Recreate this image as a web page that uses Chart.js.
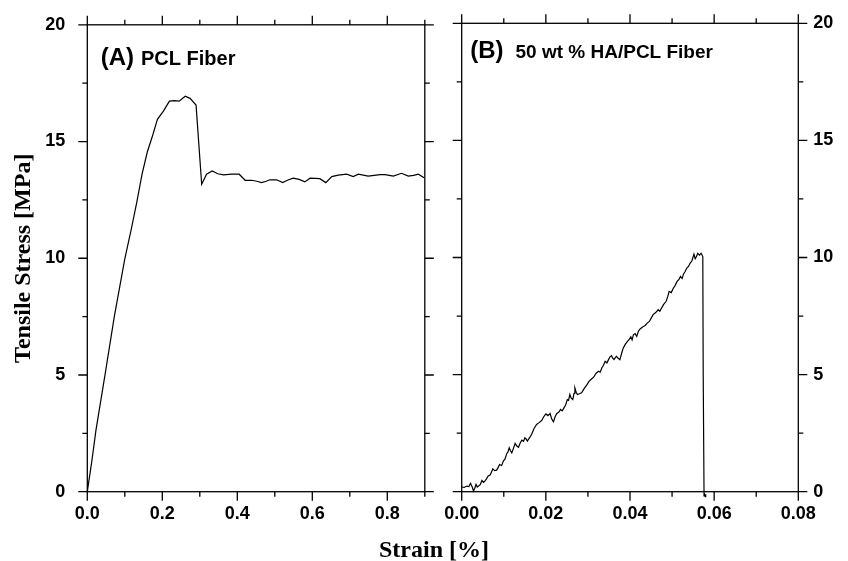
<!DOCTYPE html>
<html>
<head>
<meta charset="utf-8">
<script src="https://cdn.jsdelivr.net/npm/chart.js@4.4.0/dist/chart.umd.min.js"></script>
<style>
  body { margin: 0; background: #fff; }
  #wrap { position: relative; width: 848px; height: 561px; overflow: hidden; }
  canvas { position: absolute; left: 0; top: 0; }
  #xtitle {
    position: absolute; left: 334px; width: 200px; top: 536px;
    text-align: center; line-height: 24px;
    font: bold 24px "Liberation Serif", "Times New Roman", serif;
  }
</style>
</head>
<body>
<div id="wrap">
  <canvas id="chartA" width="848" height="561"></canvas>
  <canvas id="chartB" width="848" height="561"></canvas>
  <div id="xtitle">Strain [%]</div>
</div>
<script>
// courbe (A) : fibre PCL
const strainA = [0, 0.012, 0.023, 0.047, 0.072, 0.1, 0.118, 0.132, 0.146, 0.16, 0.175, 0.187, 0.203, 0.219, 0.232, 0.245, 0.261, 0.274, 0.29,
  0.305, 0.318, 0.333, 0.348, 0.363, 0.385, 0.405, 0.421, 0.438, 0.452, 0.465, 0.477, 0.487, 0.505, 0.521, 0.535, 0.549, 0.565,
  0.58, 0.594, 0.62, 0.636, 0.652, 0.669, 0.692, 0.709, 0.723, 0.749, 0.765, 0.781, 0.794, 0.816, 0.838, 0.856, 0.87, 0.883, 0.898];
const stressA = [0, 1.3, 2.63, 4.98, 7.5, 9.97, 11.3, 12.4, 13.6, 14.55, 15.3, 15.95, 16.3, 16.73, 16.75, 16.73, 16.94, 16.85, 16.56,
  13.17, 13.6, 13.74, 13.62, 13.57, 13.6, 13.6, 13.34, 13.34, 13.3, 13.24, 13.3, 13.36, 13.36, 13.24, 13.35, 13.43, 13.38,
  13.27, 13.43, 13.41, 13.24, 13.5, 13.56, 13.6, 13.5, 13.6, 13.52, 13.55, 13.58, 13.58, 13.52, 13.64, 13.52, 13.55, 13.6, 13.45];

// courbe (B) : fibre 50 wt % HA/PCL
const strainB = [0, 0.0006, 0.0012, 0.0017, 0.0021, 0.0025, 0.0028, 0.0031, 0.0034, 0.0037, 0.004, 0.0044, 0.0048, 0.0052, 0.0055,
  0.0059, 0.0063, 0.0068, 0.0074, 0.0078, 0.0083, 0.0087, 0.009, 0.0095, 0.0099, 0.0103, 0.0107, 0.011, 0.0113, 0.0116, 0.0119,
  0.0123, 0.0127, 0.0131, 0.0135, 0.0139, 0.0143, 0.0147, 0.015, 0.0153, 0.0156, 0.0161, 0.0166, 0.0172, 0.0178, 0.0184, 0.019,
  0.0195, 0.02, 0.0205, 0.021, 0.0214, 0.0218, 0.0222, 0.0226, 0.0231, 0.0235, 0.0239, 0.0243, 0.0247, 0.0251, 0.0254, 0.0257,
  0.026, 0.0264, 0.0267, 0.0269, 0.0272, 0.0275, 0.028, 0.0285, 0.0291, 0.0297, 0.0303, 0.0308, 0.0314, 0.0319, 0.0325, 0.0329,
  0.0333, 0.0337, 0.0341, 0.0345, 0.0349, 0.0352, 0.0356, 0.0359, 0.0362, 0.0365, 0.0368, 0.0372, 0.0376, 0.038, 0.0384, 0.0389,
  0.0394, 0.0398, 0.0402, 0.0405, 0.0408, 0.0412, 0.0416, 0.042, 0.0424, 0.043, 0.0436, 0.0441, 0.0446, 0.045, 0.0455, 0.0461,
  0.0467, 0.0471, 0.0475, 0.048, 0.0486, 0.049, 0.0493, 0.0498, 0.0503, 0.0507, 0.0512, 0.0516, 0.052, 0.0524, 0.0527, 0.0531,
  0.0535, 0.0539, 0.0543, 0.0547, 0.0552, 0.0555, 0.0558, 0.0561, 0.0565, 0.0569, 0.0573, 0.0574, 0.0576, 0.0577, 0.0579, 0.058, 0.0584];
const stressB = [0.2, 0.18, 0.24, 0.22, 0.36, 0.2, 0.03, 0.15, 0.31, 0.2, 0.24, 0.3, 0.48, 0.4, 0.45, 0.55, 0.67, 0.72, 0.98, 0.9,
  0.92, 1.05, 1.16, 1.12, 1.31, 1.4, 1.62, 1.7, 1.88, 1.75, 1.66, 1.85, 2.06, 1.95, 1.9, 2.08, 2.2, 2.15, 2.3, 2.25, 2.16, 2.3,
  2.44, 2.7, 2.87, 2.95, 3.04, 3.2, 3.32, 3.25, 3.34, 3.1, 2.98, 3.2, 3.34, 3.4, 3.51, 3.45, 3.58, 3.7, 3.93, 3.9, 4.15, 4.0,
  3.93, 4.2, 4.43, 4.25, 4.15, 4.18, 4.22, 4.4, 4.55, 4.72, 4.8, 4.9, 5.05, 5.14, 5.1, 5.28, 5.4, 5.57, 5.5, 5.64, 5.75, 5.81,
  5.7, 5.64, 5.72, 5.78, 5.7, 5.64, 5.9, 6.14, 6.3, 6.42, 6.5, 6.61, 6.48, 6.7, 6.75, 6.63, 6.85, 6.95, 7.03, 7.1, 7.2, 7.27,
  7.4, 7.56, 7.65, 7.77, 7.7, 7.84, 8.0, 8.13, 8.35, 8.55, 8.5, 8.69, 8.8, 8.98, 9.05, 9.19, 9.1, 9.29, 9.4, 9.55, 9.62, 9.76,
  9.85, 10.14, 9.95, 10.04, 10.18, 10.1, 10.18, 10.04, 5.0, -0.18, -0.1, -0.21, -0.11];

const yTicks = [0, 5, 10, 15, 20];

function points(xs, ys) {
  return xs.map((x, i) => ({ x: x, y: ys[i] }));
}

Chart.defaults.font.family = "'Liberation Sans', Arial, sans-serif";
Chart.defaults.font.size = 18;
Chart.defaults.font.weight = "bold";
Chart.defaults.color = "#000";

// cadre + graduations sur les 4 cotes
const cadre = {
  id: "cadre",
  afterDraw(chart, args, opts) {
    const ctx = chart.ctx;
    const a = chart.chartArea;
    const sx = chart.scales.x;
    const sy = chart.scales.y;
    ctx.save();
    ctx.strokeStyle = "#000";
    ctx.lineWidth = 1.3;
    ctx.strokeRect(a.left, a.top, a.right - a.left, a.bottom - a.top);
    ctx.beginPath();
    sx.ticks.forEach((t) => {
      const p = sx.getPixelForValue(t.value);
      const r = t.value / opts.xMajor;
      const l = Math.abs(r - Math.round(r)) < 1e-6 ? 9 : 5;
      ctx.moveTo(p, a.bottom); ctx.lineTo(p, a.bottom + l);
      ctx.moveTo(p, a.top); ctx.lineTo(p, a.top - l);
    });
    sy.ticks.forEach((t) => {
      const p = sy.getPixelForValue(t.value);
      const l = yTicks.includes(t.value) ? 9 : 5;
      ctx.moveTo(a.left, p); ctx.lineTo(a.left - l, p);
      ctx.moveTo(a.right, p); ctx.lineTo(a.right + l, p);
    });
    ctx.stroke();
    // libelles des panneaux
    ctx.fillStyle = "#000";
    ctx.textBaseline = "alphabetic";
    ctx.font = "bold 24px 'Liberation Sans', Arial, sans-serif";
    ctx.fillText(opts.tag, a.left + opts.tagX, a.top + opts.tagY);
    const w = ctx.measureText(opts.tag).width;
    ctx.font = "bold " + opts.nameSize + "px 'Liberation Sans', Arial, sans-serif";
    ctx.fillText(opts.name, a.left + opts.tagX + w + opts.gap, a.top + opts.tagY);
    ctx.restore();
  },
};

function makeChart(id, xs, ys, o) {
  return new Chart(document.getElementById(id), {
    type: "scatter",
    data: {
      datasets: [{
        data: points(xs, ys),
        showLine: true,
        borderColor: "#000",
        borderWidth: 1.2,
        pointRadius: 0,
        clip: false,
      }],
    },
    options: {
      responsive: false,
      animation: false,
      layout: { padding: o.padding },
      plugins: {
        legend: { display: false },
        tooltip: { enabled: false },
        cadre: o.cadre,
      },
      scales: {
        x: {
          type: "linear",
          min: 0,
          max: o.xMax,
          grid: { display: false },
          border: { display: false },
          afterFit: (s) => { s.height = 40; },
          ticks: {
            stepSize: o.xStep,
            autoSkip: false,
            maxRotation: 0,
            padding: 4,
            callback: (v) => {
              const r = v / o.xMajor;
              return Math.abs(r - Math.round(r)) < 1e-6 ? v.toFixed(o.dec) : "";
            },
          },
        },
        y: {
          type: "linear",
          position: o.yPos,
          min: 0,
          max: 20,
          grid: { display: false },
          border: { display: false },
          afterFit: (s) => { s.width = o.yWidth; },
          title: o.yTitle,
          ticks: {
            stepSize: 2.5,
            autoSkip: false,
            padding: o.yPad,
            callback: (v) => (yTicks.includes(v) ? String(v) : ""),
          },
        },
      },
    },
    plugins: [cadre],
  });
}

makeChart("chartA", strainA, stressA, {
  padding: { left: 0, top: 23.3, right: 848 - 424.8, bottom: 29.3 },
  xMax: 0.9, xStep: 0.1, xMajor: 0.2, dec: 1,
  yPos: "left", yWidth: 87.3, yPad: 14,
  yTitle: {
    display: true,
    text: "Tensile Stress [MPa]",
    padding: { top: 9, bottom: 0 },
    font: { family: "'Liberation Serif', 'Times New Roman', serif", size: 24, weight: "bold" },
  },
  cadre: { xMajor: 0.2, tag: "(A)", name: "PCL Fiber", nameSize: 20, tagX: 13.4, tagY: 40.5, gap: 7 },
});

makeChart("chartB", strainB, stressB, {
  padding: { left: 461.7, top: 23.3, right: 0, bottom: 29.3 },
  xMax: 0.08, xStep: 0.01, xMajor: 0.02, dec: 2,
  yPos: "right", yWidth: 848 - 798.3, yPad: 7,
  yTitle: { display: false },
  cadre: { xMajor: 0.02, tag: "(B)", name: "50 wt % HA/PCL Fiber", nameSize: 19, tagX: 8.5, tagY: 35, gap: 12 },
});
</script>
</body>
</html>
